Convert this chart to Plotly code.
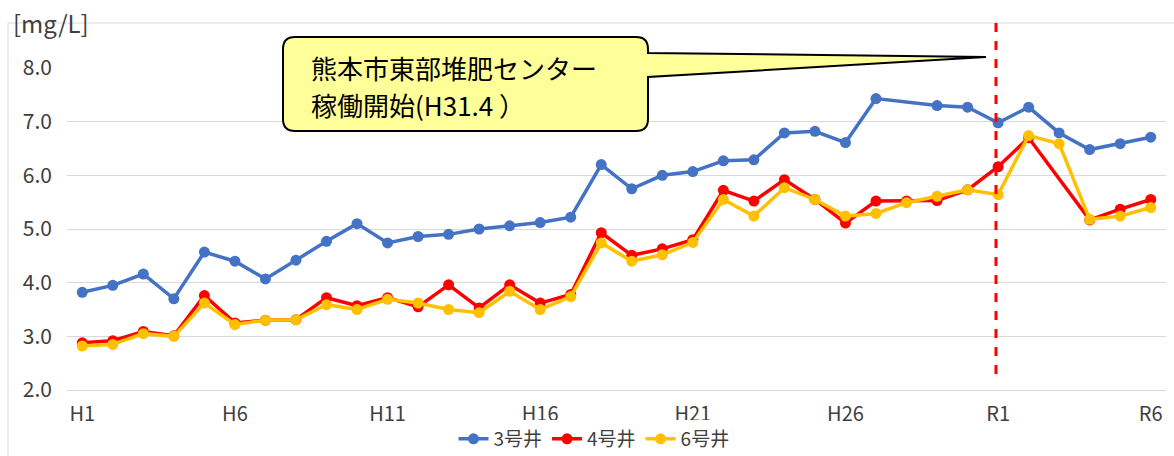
import plotly.graph_objects as go

# fiscal years H1..H30, R1..R6
years = ["H%d" % i for i in range(1, 31)] + ["R%d" % i for i in range(1, 7)]
tick_labels = ["H1", "H6", "H11", "H16", "H21", "H26", "R1", "R6"]

# nitrate nitrogen concentration [mg/L]
well3 = [3.82, 3.95, 4.16, 3.70, 4.57, 4.40, 4.07, 4.42, 4.77, 5.10,
         4.74, 4.86, 4.90, 5.00, 5.06, 5.12, 5.22, 6.20, 5.75, 6.00,
         6.07, 6.27, 6.29, 6.79, 6.82, 6.61, 7.43, None, 7.30, 7.27,
         6.98, 7.27, 6.79, 6.48, 6.59, 6.71]
well4 = [2.88, 2.92, 3.09, 3.01, 3.76, 3.25, 3.30, 3.31, 3.72, 3.57,
         3.72, 3.55, 3.96, 3.53, 3.96, 3.62, 3.78, 4.93, 4.51, 4.63,
         4.80, 5.72, 5.52, 5.92, 5.55, 5.11, 5.52, 5.52, 5.53, 5.73,
         6.16, 6.70, None, 5.17, 5.37, 5.55]
well6 = [2.82, 2.85, 3.05, 3.00, 3.62, 3.22, 3.30, 3.31, 3.59, 3.50,
         3.69, 3.62, 3.50, 3.44, 3.84, 3.50, 3.74, 4.74, 4.40, 4.52,
         4.75, 5.55, 5.24, 5.77, 5.55, 5.24, 5.29, 5.49, 5.61, 5.73,
         5.64, 6.74, 6.59, 5.18, 5.24, 5.40]

W, H = 1174, 456
L, R, T, B = 67, 8, 68, 66
PW, PH = W - L - R, H - T - B
FONT = "Noto Sans CJK JP, Noto Sans, sans-serif"
GREY = "#404040"


def px(x):
    return (x - L) / PW


def py(y):
    return (H - B - y) / PH


def P(x, y):
    return "%.5f,%.5f" % (px(x), py(y))


fig = go.Figure()
for name, vals, col in [("3号井", well3, "#4472C4"),
                        ("4号井", well4, "#FF0000"),
                        ("6号井", well6, "#FFC000")]:
    fig.add_trace(go.Scatter(
        x=years, y=vals, name=name, mode="lines+markers",
        connectgaps=True,
        line=dict(color=col, width=3.5),
        marker=dict(color=col, size=11),
    ))

# outer chart frame
fig.add_shape(type="rect", xref="paper", yref="paper",
              x0=px(8), x1=px(1190), y0=py(23), y1=py(470),
              line=dict(color="#D9D9D9", width=1), layer="below")

# dashed marker line
fig.add_shape(type="line", xref="paper", yref="paper",
              x0=px(996), x1=px(996), y0=py(23), y1=py(382),
              line=dict(color="#FF0000", width=3, dash="dash"))

# callout box with tail
bx0, bx1, by0, by1, r = 283, 648, 37, 131, 12
path = ("M " + P(bx0 + r, by0) +
        " L " + P(bx1 - r, by0) +
        " Q " + P(bx1, by0) + " " + P(bx1, by0 + r) +
        " L " + P(bx1, 53) +
        " L " + P(986, 57) +
        " L " + P(bx1, 77) +
        " L " + P(bx1, by1 - r) +
        " Q " + P(bx1, by1) + " " + P(bx1 - r, by1) +
        " L " + P(bx0 + r, by1) +
        " Q " + P(bx0, by1) + " " + P(bx0, by1 - r) +
        " L " + P(bx0, by0 + r) +
        " Q " + P(bx0, by0) + " " + P(bx0 + r, by0) + " Z")
fig.add_shape(type="path", xref="paper", yref="paper", path=path,
              fillcolor="#FFFF99", line=dict(color="black", width=2))

fig.add_annotation(xref="paper", yref="paper", x=px(309), y=py(67),
                   xanchor="left", yanchor="middle", showarrow=False,
                   text="熊本市東部堆肥センター",
                   font=dict(family=FONT, size=26, color="black"))
fig.add_annotation(xref="paper", yref="paper", x=px(309), y=py(104),
                   xanchor="left", yanchor="middle", showarrow=False,
                   text="稼働開始(H31.4 ）",
                   font=dict(family=FONT, size=26, color="black"))

# unit label
fig.add_annotation(xref="paper", yref="paper", x=px(11), y=py(22),
                   xanchor="left", yanchor="middle", showarrow=False,
                   text="[mg/L]", font=dict(family=FONT, size=24, color=GREY))

fig.update_layout(
    width=W, height=H,
    margin=dict(l=L, r=R, t=T, b=B, autoexpand=False),
    paper_bgcolor="white", plot_bgcolor="white",
    font=dict(family=FONT, size=20, color=GREY),
    showlegend=True,
    legend=dict(orientation="h", x=px(594), xanchor="center",
                y=py(439), yanchor="middle",
                font=dict(family=FONT, size=19, color=GREY),
                itemwidth=30, tracegroupgap=0),
    xaxis=dict(type="category", range=[-0.5, len(years) - 0.5],
               tickmode="array", tickvals=tick_labels, ticktext=tick_labels,
               showgrid=False, zeroline=False,
               showline=True, linecolor="#D9D9D9", linewidth=1,
               ticks="", ticklabelstandoff=6,
               tickfont=dict(size=20, color=GREY)),
    yaxis=dict(range=[2, 8], dtick=1, tickformat=".1f",
               showgrid=True, gridcolor="#D9D9D9", gridwidth=1,
               zeroline=False, showline=False, ticks="",
               ticklabelstandoff=14,
               tickfont=dict(size=21, color=GREY)),
)

fig.write_html("out.html",
               config={"displayModeBar": False},
               post_script="document.body.style.margin='0';"
                           "document.body.style.overflow='hidden';")
